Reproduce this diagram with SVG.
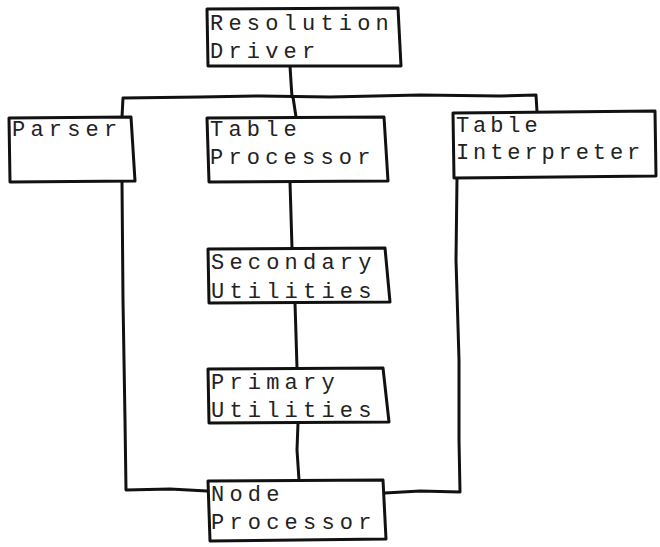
<svg xmlns="http://www.w3.org/2000/svg" width="660" height="547" viewBox="0 0 660 547">
  <style>
    .box { fill: #ffffff; stroke: #111; stroke-width: 3; stroke-linejoin: round; }
    .wire { fill: none; stroke: #111; stroke-width: 3; stroke-linejoin: round; stroke-linecap: round; }
    .lbl { font-family: "Liberation Mono", "DejaVu Sans Mono", monospace; font-size: 22px; letter-spacing: 5.2px; fill: #222; }
    .tight { letter-spacing: 3.9px; }
  </style>
  <rect width="660" height="547" fill="#ffffff"/>

  <!-- connectors -->
  <g id="connectors">
    <!-- driver down to the bus -->
    <path class="wire" d="M290,66 L291,82 L292,97"/>
    <!-- bus across the top row -->
    <path class="wire" d="M122,117 L123,98 L200,97 L260,96 L330,97 L420,95 L500,96 L536,95 L537,112"/>
    <path class="wire" d="M293,97 L296,117"/>
    <!-- table processor chain -->
    <path class="wire" d="M290,182 L291,215 L292,248"/>
    <path class="wire" d="M295,303 L296,335 L297,368"/>
    <path class="wire" d="M298,423 L297,450 L299,480"/>
    <!-- parser down to node processor -->
    <path class="wire" d="M122,182 L123,300 L125,420 L126,490 L170,489 L207,491"/>
    <!-- interpreter down to node processor -->
    <path class="wire" d="M457,178 L456,260 L459,360 L459,440 L460,492 L420,491 L385,493"/>
  </g>

  <g id="resolution-driver">
    <path class="box" d="M207,9 L398,8 L401,66 L208,66 Z"/>
    <text class="lbl" x="210" y="30">Resolution</text>
    <text class="lbl" x="210" y="58">Driver</text>
  </g>

  <g id="parser">
    <path class="box" d="M9,118 L131,117 L135,181 L10,182 Z"/>
    <text class="lbl" x="12" y="136">Parser</text>
  </g>

  <g id="table-processor">
    <path class="box" d="M207,118 L384,117 L388,181 L209,182 Z"/>
    <text class="lbl" x="210" y="136">Table</text>
    <text class="lbl" x="210" y="164">Processor</text>
  </g>

  <g id="table-interpreter">
    <path class="box" d="M453,113 L655,111 L656,176 L454,178 Z"/>
    <text class="lbl tight" x="456" y="132">Table</text>
    <text class="lbl tight" x="456" y="159">Interpreter</text>
  </g>

  <g id="secondary-utilities">
    <path class="box" d="M208,249 L385,248 L390,302 L209,303 Z"/>
    <text class="lbl" x="211" y="269">Secondary</text>
    <text class="lbl" x="211" y="298">Utilities</text>
  </g>

  <g id="primary-utilities">
    <path class="box" d="M208,369 L383,368 L389,422 L209,423 Z"/>
    <text class="lbl" x="211" y="389">Primary</text>
    <text class="lbl" x="211" y="417">Utilities</text>
  </g>

  <g id="node-processor">
    <path class="box" d="M208,481 L383,480 L386,539 L210,541 Z"/>
    <text class="lbl" x="211" y="501">Node</text>
    <text class="lbl" x="211" y="529">Processor</text>
  </g>
</svg>
